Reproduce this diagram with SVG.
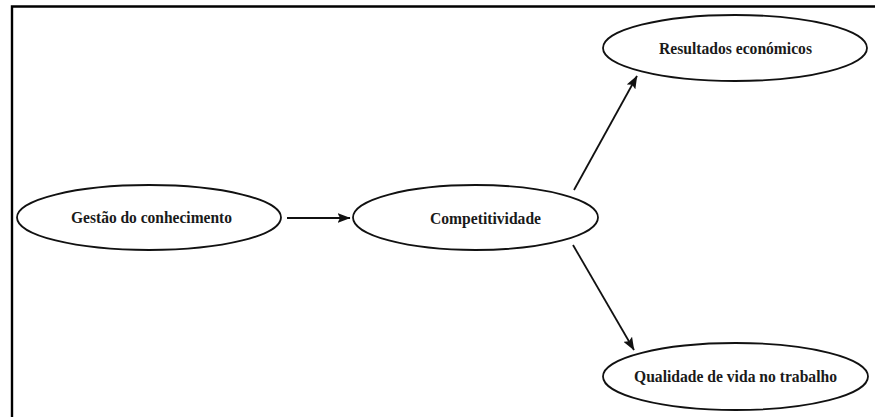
<svg xmlns="http://www.w3.org/2000/svg" width="875" height="417" viewBox="0 0 875 417">
  <style>
    .node ellipse { fill: #ffffff; stroke: #111111; stroke-width: 1.8; }
    .node text { font-family: "Liberation Serif", "Times New Roman", serif; font-weight: bold; font-size: 16.5px; fill: #1a1a1a; text-anchor: middle; }
    .edge { stroke: #111111; stroke-width: 1.8; fill: none; marker-end: url(#arrow); }
    .frame { stroke: #000000; stroke-width: 2.4; fill: none; }
  </style>
  <defs>
    <marker id="arrow" viewBox="0 0 13 10" refX="12.5" refY="5" markerWidth="13" markerHeight="10" markerUnits="userSpaceOnUse" orient="auto">
      <path d="M0,0 L13,5 L0,10 L2.5,5 Z" fill="#111111"/>
    </marker>
  </defs>

  <rect width="875" height="417" fill="#ffffff"/>
  <!-- outer frame (top and left edges visible) -->
  <path class="frame" d="M12,417 L12,6.5 L875,6.5"/>

  <g id="connectors">
    <line class="edge" x1="287" y1="218" x2="350" y2="218"/>
    <line class="edge" x1="574" y1="190" x2="637" y2="76"/>
    <line class="edge" x1="573" y1="245" x2="634" y2="350"/>
  </g>

  <g id="gestao" class="node">
    <ellipse cx="149" cy="217.5" rx="132" ry="32.5"/>
    <text x="151.5" y="222.5" textLength="161" lengthAdjust="spacingAndGlyphs">Gestão do conhecimento</text>
  </g>

  <g id="competitividade" class="node">
    <ellipse cx="475.5" cy="217.5" rx="122.5" ry="32.5"/>
    <text x="485.5" y="223.5" textLength="111" lengthAdjust="spacingAndGlyphs">Competitividade</text>
  </g>

  <g id="resultados" class="node">
    <ellipse cx="735" cy="48" rx="132" ry="33"/>
    <text x="735.5" y="53.5" textLength="153" lengthAdjust="spacingAndGlyphs">Resultados económicos</text>
  </g>

  <g id="qualidade" class="node">
    <ellipse cx="735.5" cy="376.5" rx="132.5" ry="33.5"/>
    <text x="735.5" y="382" textLength="203" lengthAdjust="spacingAndGlyphs">Qualidade de vida no trabalho</text>
  </g>
</svg>
